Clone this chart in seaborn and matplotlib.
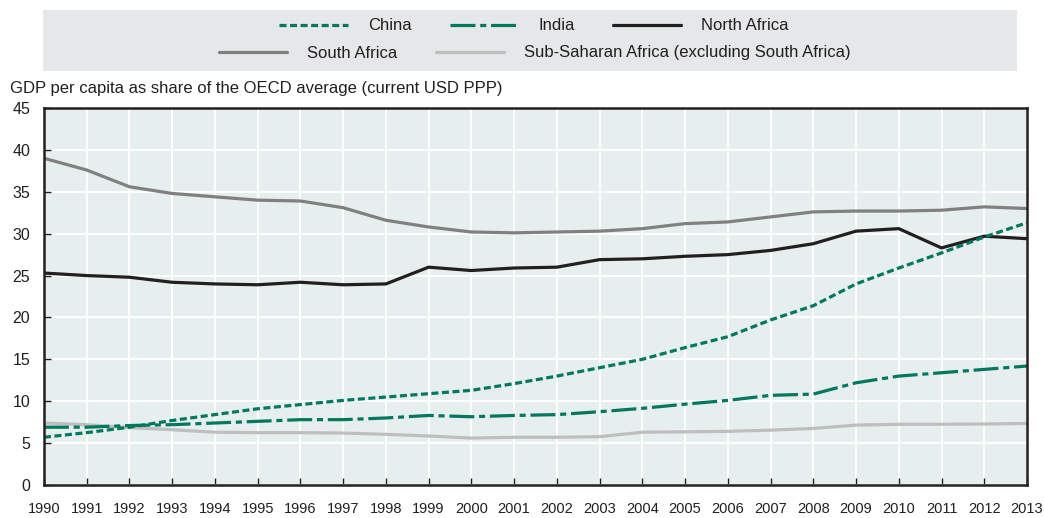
import matplotlib
matplotlib.use("Agg")
import matplotlib.pyplot as plt
from matplotlib.patches import Rectangle
import pandas as pd
import seaborn as sns

years = list(range(1990, 2014))

china = [5.7, 6.25, 6.9, 7.7, 8.4, 9.1, 9.6, 10.1, 10.5, 10.9, 11.3, 12.1,
         13.0, 14.0, 15.0, 16.4, 17.7, 19.7, 21.4, 24.0, 25.9, 27.7, 29.6, 31.3]
india = [6.9, 6.9, 7.1, 7.2, 7.4, 7.6, 7.8, 7.8, 8.0, 8.3, 8.15, 8.3,
         8.4, 8.75, 9.15, 9.65, 10.1, 10.7, 10.85, 12.2, 13.0, 13.4, 13.8, 14.2]
north_africa = [25.3, 25.0, 24.8, 24.2, 24.0, 23.9, 24.2, 23.9, 24.0, 26.0, 25.6, 25.9,
                26.0, 26.9, 27.0, 27.3, 27.5, 28.0, 28.8, 30.3, 30.6, 28.3, 29.7, 29.4]
south_africa = [39.0, 37.6, 35.6, 34.8, 34.4, 34.0, 33.9, 33.1, 31.6, 30.8, 30.2, 30.1,
                30.2, 30.3, 30.6, 31.2, 31.4, 32.0, 32.6, 32.7, 32.7, 32.8, 33.2, 33.0]
ssa = [7.4, 7.2, 6.85, 6.6, 6.3, 6.25, 6.25, 6.2, 6.05, 5.85, 5.6, 5.7,
       5.7, 5.77, 6.3, 6.35, 6.4, 6.55, 6.75, 7.15, 7.25, 7.25, 7.28, 7.35]

series = ["China", "India", "North Africa", "South Africa",
          "Sub-Saharan Africa (excluding South Africa)"]
values = [china, india, north_africa, south_africa, ssa]

df = pd.DataFrame({
    "year": years * len(series),
    "value": sum(values, []),
    "series": [s for s in series for _ in years],
})

colors = {"China": "#00775F", "India": "#00775F", "North Africa": "#231F20",
          "South Africa": "#808080",
          "Sub-Saharan Africa (excluding South Africa)": "#BEBEBE"}
dashes = {"China": (2.2, 1.1), "India": (7.8, 1.5, 1.9, 1.5), "North Africa": "",
          "South Africa": "", "Sub-Saharan Africa (excluding South Africa)": ""}

sns.set_theme(style="white")
plt.rcParams["font.family"] = ["Liberation Sans", "DejaVu Sans"]
plt.rcParams["text.color"] = "#231F20"

fig = plt.figure(figsize=(10.44, 5.18), dpi=100)
ax = fig.add_axes([0.0421, 0.0637, 0.9416, 0.7278])
ax.set_facecolor("#E6EFED")

sns.lineplot(data=df, x="year", y="value", hue="series", style="series",
             palette=colors, dashes=dashes, linewidth=2.3, ax=ax,
             hue_order=series[::-1], style_order=series[::-1])

handles, labels = ax.get_legend_handles_labels()
ax.get_legend().remove()
hmap = dict(zip(labels, handles))

ax.set_xlim(1990, 2013)
ax.set_ylim(0, 45)
ax.set_xticks(years)
ax.set_xticklabels([str(y) for y in years], fontsize=10.5)
ax.set_yticks(range(0, 50, 5))
ax.set_yticklabels([str(v) for v in range(0, 50, 5)], fontsize=11.5)
ax.set_xlabel("")
ax.set_ylabel("")
ax.grid(True, color="white", linewidth=1.3)
ax.set_axisbelow(True)
for sp in ax.spines.values():
    sp.set_color("#231F20")
    sp.set_linewidth(1.8)
ax.tick_params(axis="both", direction="in", length=5, width=1, color="#231F20",
               labelcolor="#231F20", left=True, bottom=True)
ax.tick_params(axis="x", pad=12)
ax.tick_params(axis="y", pad=10)

fig.text(0.0096, 1 - 88 / 518, "GDP per capita as share of the OECD average (current USD PPP)",
         fontsize=12, va="center", ha="left")

fig.patches.append(Rectangle((43 / 1044, 1 - 71 / 518), 974 / 1044, 61 / 518,
                             transform=fig.transFigure, facecolor="#E6E7E8",
                             edgecolor="none", zorder=0))

row1 = ["China", "India", "North Africa"]
row2 = ["South Africa", "Sub-Saharan Africa (excluding South Africa)"]
kw = dict(loc="center", frameon=False, fontsize=12, handlelength=4.1,
          handletextpad=1.2, columnspacing=2.3, borderpad=0)
fig.legend([hmap[l] for l in row1], row1, ncol=3,
           bbox_to_anchor=(534 / 1044, 1 - 26 / 518), **kw)
fig.legend([hmap[l] for l in row2], row2, ncol=2,
           bbox_to_anchor=(535 / 1044, 1 - 53 / 518), **kw)

fig.savefig("out.png", dpi=100)
